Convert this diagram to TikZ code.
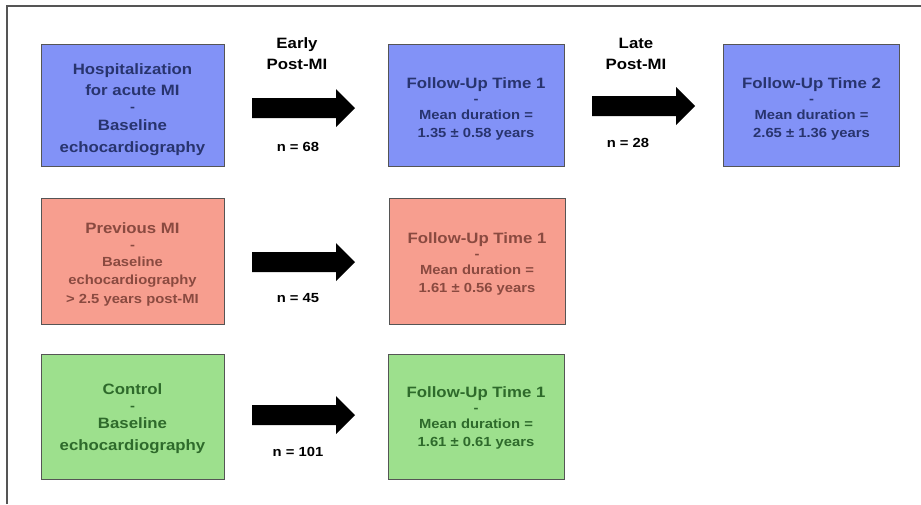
\documentclass[tikz,border=0pt]{standalone}
\usepackage{fontspec}
\setmainfont{Liberation Sans}[FakeStretch=1.12]
\definecolor{bluefill}{RGB}{130,146,247}
\definecolor{redfill}{RGB}{247,158,143}
\definecolor{greenfill}{RGB}{157,224,141}
\definecolor{bluetext}{RGB}{40,52,110}
\definecolor{redtext}{RGB}{138,74,64}
\definecolor{greentext}{RGB}{46,106,43}
\definecolor{framegray}{RGB}{85,85,85}
\newcommand{\bigf}{\fontsize{15}{21}\selectfont\bfseries}
\newcommand{\smallf}{\fontsize{13.2}{17}\selectfont\bfseries}
\newcommand{\smallg}{\fontsize{13.2}{18}\selectfont\bfseries}
\newcommand{\topstrut}[1]{\rule{0pt}{#1}}
\tikzset{
  box/.style={draw=framegray, line width=1pt, inner sep=0pt, align=center},
  bluebox/.style={box, fill=bluefill, text=bluetext},
  redbox/.style={box, fill=redfill, text=redtext},
  greenbox/.style={box, fill=greenfill, text=greentext},
  leftbox/.style={minimum width=183pt},
  rightbox/.style={minimum width=176pt},
  lbl/.style={text=black, align=center, inner sep=0pt},
  blockarrow/.pic={\fill[black] (0,-10) -- (84,-10) -- (84,-19) -- (103,0)
    -- (84,19) -- (84,10) -- (0,10) -- cycle;},
}
\begin{document}
\begin{tikzpicture}[x=1pt,y=-1pt]
\useasboundingbox (0,0) rectangle (921,504);
\fill[white] (0,0) rectangle (921,504);
\draw[framegray, line width=1.5pt] (7,504) -- (7,6) -- (921,6);

% row 1
\node[bluebox, leftbox, minimum height=122pt, font=\bigf] (a1) at (132.5,105)
  {\topstrut{21pt}Hospitalization\\for acute MI\\[-5pt]{\smallf -}\\[-2pt]Baseline\\[1pt]echocardiography};
\node[bluebox, rightbox, minimum height=122pt, font=\smallf] (a2) at (476,105)
  {{\bigf\topstrut{19pt}Follow-Up Time 1}\\[-2pt]-\\[-1pt]Mean duration =\\[1pt]1.35 ± 0.58 years};
\node[bluebox, rightbox, minimum height=122pt, font=\smallf] (a3) at (811.5,105)
  {{\bigf\topstrut{19pt}Follow-Up Time 2}\\[-2pt]-\\[-1pt]Mean duration =\\[1pt]2.65 ± 1.36 years};

% row 2
\node[redbox, leftbox, minimum height=126pt, font=\smallg] (b1) at (132.5,261)
  {{\bigf\topstrut{17pt}Previous MI}\\[-2pt]-\\[-1pt]Baseline\\echocardiography\\[1pt]> 2.5 years post-MI};
\node[redbox, rightbox, minimum height=126pt, font=\smallf] (b2) at (477,261)
  {{\bigf\topstrut{17pt}Follow-Up Time 1}\\[-2pt]-\\[-1pt]Mean duration =\\[1pt]1.61 ± 0.56 years};

% row 3
\node[greenbox, leftbox, minimum height=125pt, font=\bigf] (c1) at (132.5,416.5)
  {\topstrut{15pt}Control\\[-5pt]{\smallf -}\\[-3pt]Baseline\\[1pt]echocardiography};
\node[greenbox, rightbox, minimum height=125pt, font=\smallf] (c2) at (476,416.5)
  {{\bigf\topstrut{13pt}Follow-Up Time 1}\\[-2pt]-\\[-1pt]Mean duration =\\[1pt]1.61 ± 0.61 years};

% block arrows
\pic (ar1) at (252,108) {blockarrow};
\pic (ar2) at (592,106) {blockarrow};
\pic (ar3) at (252,262) {blockarrow};
\pic (ar4) at (252,415) {blockarrow};

% labels
\node[lbl, font=\bigf] (l1) at (297,54) {Early\\Post-MI};
\node[lbl, font=\smallf] (n1) at (298,147) {n = 68};
\node[lbl, font=\bigf] (l2) at (636,54) {Late\\Post-MI};
\node[lbl, font=\smallf] (n2) at (628,143) {n = 28};
\node[lbl, font=\smallf] (n3) at (298,298) {n = 45};
\node[lbl, font=\smallf] (n4) at (298,452) {n = 101};
\end{tikzpicture}
\end{document}
